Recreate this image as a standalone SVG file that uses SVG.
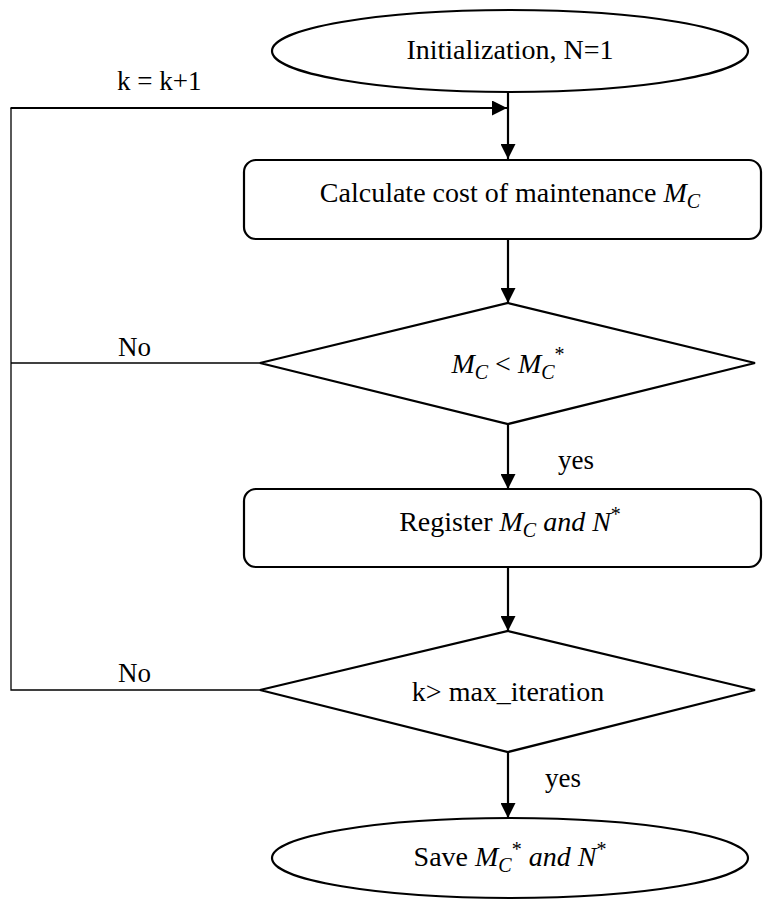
<svg xmlns="http://www.w3.org/2000/svg" width="763" height="902" viewBox="0 0 763 902">
<style>
  .shape { fill: #ffffff; stroke: #000000; stroke-width: 2.2; }
  .conn { fill: none; stroke: #000000; stroke-width: 2.2; }
  .thin { fill: none; stroke: #000000; stroke-width: 1.3; }
  text { font-family: 'Liberation Serif', 'DejaVu Serif', serif; fill: #000000; }
  .t { font-size: 28px; text-anchor: middle; }
  .lbl { font-size: 27px; }
  .i { font-style: italic; }
</style>
<defs>
  <marker id="arr" viewBox="0 0 10 10" refX="10" refY="5" markerUnits="userSpaceOnUse" markerWidth="15" markerHeight="15" orient="auto">
    <path d="M0,0 L10,5 L0,10 z" fill="#000000"/>
  </marker>
</defs>

<g id="connectors">
  <line class="conn" x1="508" y1="92" x2="508" y2="159" marker-end="url(#arr)"/>
  <line class="conn" x1="508" y1="239" x2="508" y2="303" marker-end="url(#arr)"/>
  <line class="conn" x1="508" y1="424" x2="508" y2="489" marker-end="url(#arr)"/>
  <line class="conn" x1="508" y1="567" x2="508" y2="631" marker-end="url(#arr)"/>
  <line class="conn" x1="508" y1="752" x2="508" y2="818" marker-end="url(#arr)"/>
  <polyline class="thin" points="260,690 11,690 11,108"/>
  <line class="thin" x1="11" y1="363" x2="260" y2="363"/>
  <line class="conn" x1="10.5" y1="108" x2="507" y2="108" marker-end="url(#arr)"/>
  <text class="lbl" x="117" y="90">k = k+1</text>
  <text class="lbl" x="118" y="356">No</text>
  <text class="lbl" x="118" y="682">No</text>
  <text class="lbl" x="558" y="469">yes</text>
  <text class="lbl" x="545" y="787">yes</text>
</g>

<g id="init">
  <ellipse class="shape" cx="510" cy="51" rx="238" ry="41"/>
  <text class="t" x="510" y="59">Initialization, N=1</text>
</g>

<g id="calc">
  <rect class="shape" x="244" y="160" width="517" height="79" rx="12" ry="12"/>
  <text class="t" x="510" y="202">Calculate cost of maintenance <tspan class="i">M</tspan><tspan class="i" font-size="20" dy="6">C</tspan></text>
</g>

<g id="check1">
  <polygon class="shape" points="508,303 755,363 508,424 260,363"/>
  <text class="t" x="508" y="373"><tspan class="i">M</tspan><tspan class="i" font-size="20" dy="6">C</tspan><tspan dy="-6"> &lt; </tspan><tspan class="i">M</tspan><tspan class="i" font-size="20" dy="6">C</tspan><tspan font-size="20" dy="-18">*</tspan></text>
</g>

<g id="register">
  <rect class="shape" x="244" y="489" width="517" height="78" rx="12" ry="12"/>
  <text class="t" x="510" y="531">Register <tspan class="i">M</tspan><tspan class="i" font-size="20" dy="6">C</tspan><tspan class="i" dy="-6"> and N</tspan><tspan font-size="20" dy="-10">*</tspan></text>
</g>

<g id="check2">
  <polygon class="shape" points="508,631 755,690 508,752 260,690"/>
  <text class="t" x="508" y="701">k&gt; max_iteration</text>
</g>

<g id="save">
  <ellipse class="shape" cx="510" cy="858" rx="238" ry="40"/>
  <text class="t" x="510" y="866">Save <tspan class="i">M</tspan><tspan class="i" font-size="20" dy="6">C</tspan><tspan font-size="20" dy="-16">*</tspan><tspan class="i" dy="10"> and N</tspan><tspan font-size="20" dy="-10">*</tspan></text>
</g>
</svg>
